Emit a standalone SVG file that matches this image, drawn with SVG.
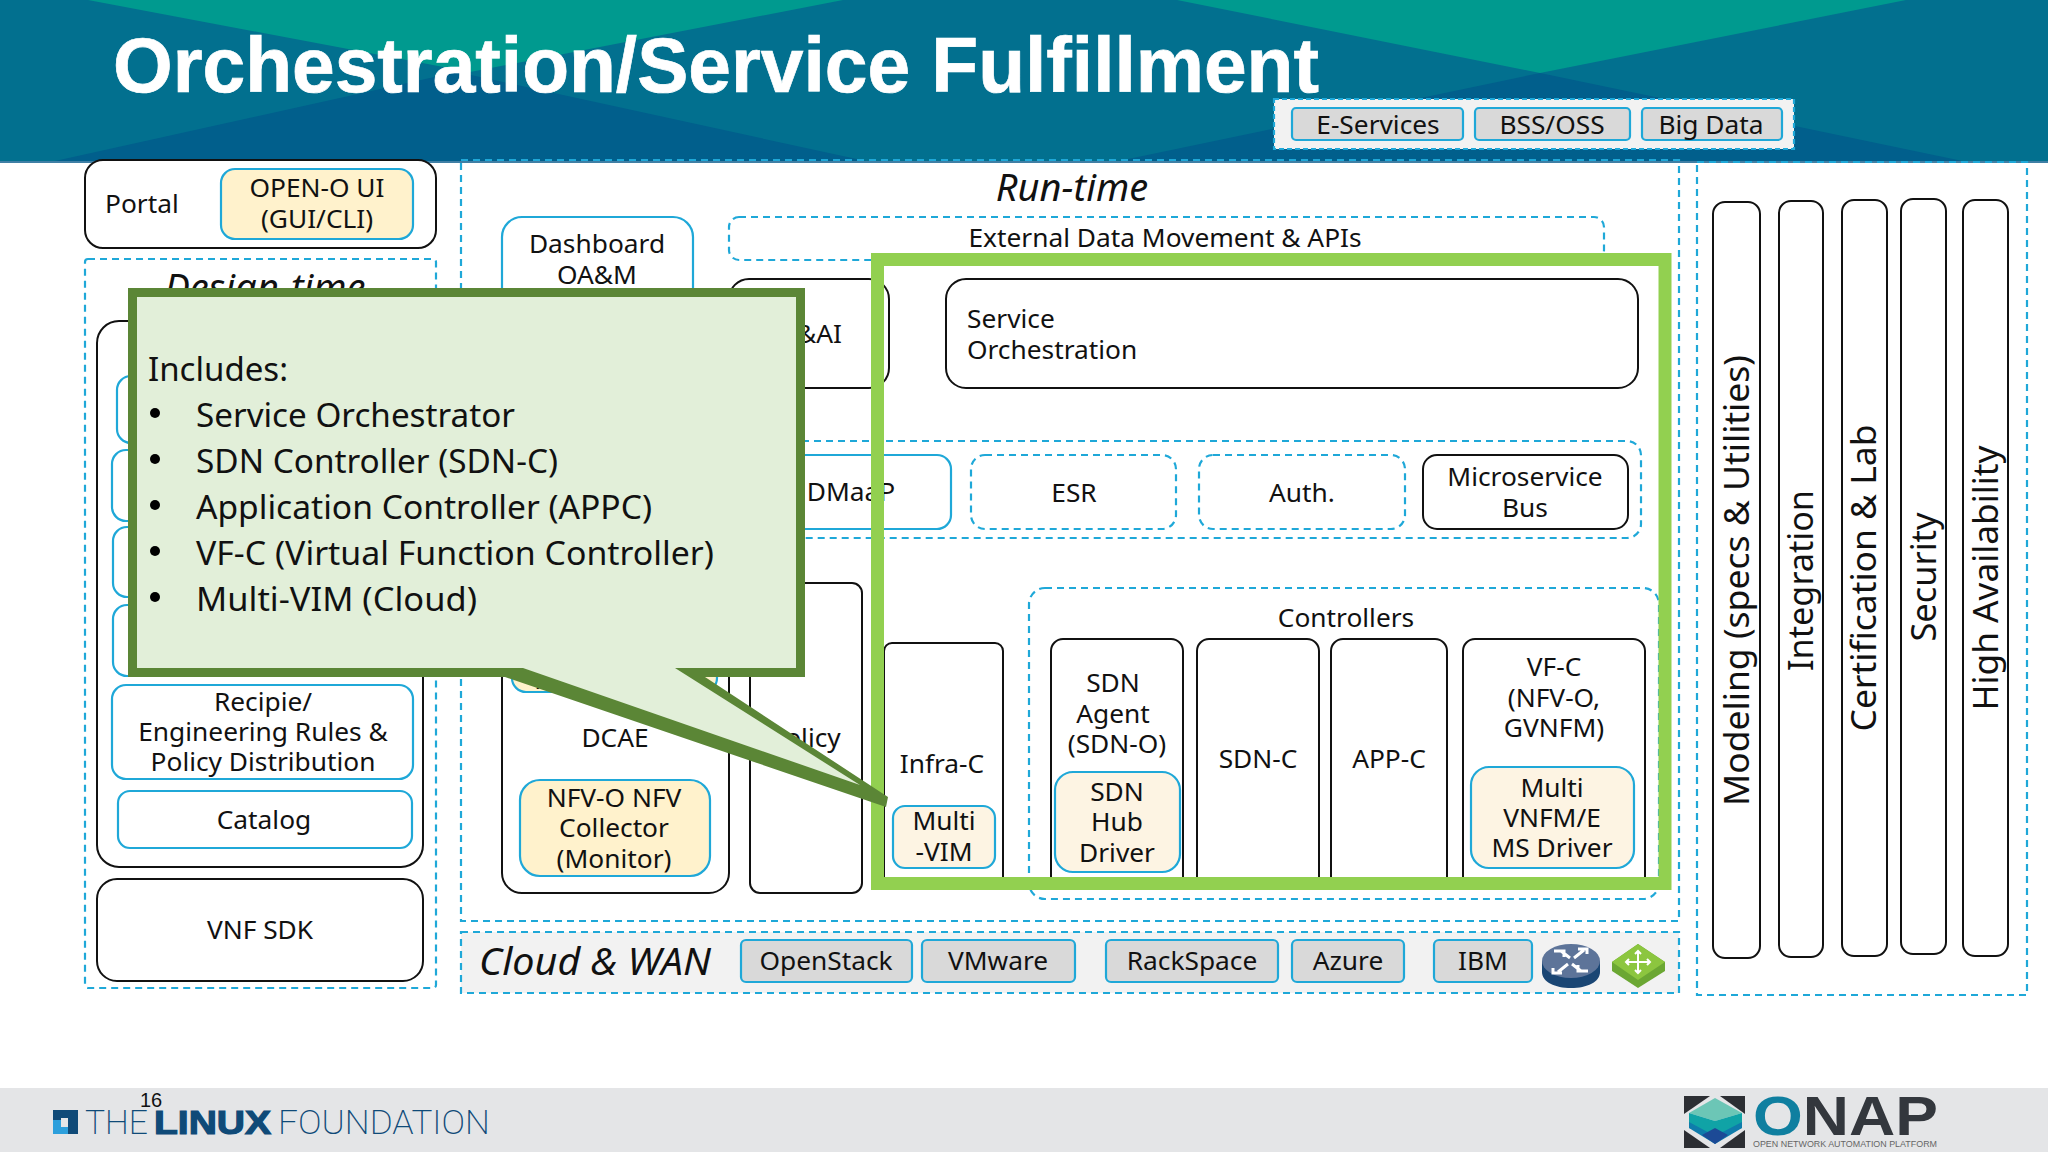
<svg xmlns="http://www.w3.org/2000/svg" width="2048" height="1152" viewBox="0 0 2048 1152">
<style>
text{font-family:"Noto Sans","Open Sans","Liberation Sans",sans-serif;fill:#111}
.t{font-size:26.3px;text-anchor:middle}
.i{font-style:italic}
.b{fill:#fff;stroke:#111;stroke-width:2}
.s{fill:#fff;stroke:#1fa8d8;stroke-width:2.2}
.y{fill:#fff2cc;stroke:#1fa8d8;stroke-width:2.2}
.yl{fill:#fdf4e3;stroke:#1fa8d8;stroke-width:2.2}
.d{fill:none;stroke:#1fa8d8;stroke-width:2.2;stroke-dasharray:7 5}
.c{fill:#d9d9d9;stroke:#1fa8d8;stroke-width:2.2}
.v{font-size:35px;text-anchor:middle}
.cl{font-size:33.6px}
.wa{stroke:#fff;stroke-width:3;fill:none}
</style>
<rect width="2048" height="1152" fill="#fff"/>
<g id="banner">
<rect width="2048" height="163" fill="#02708f"/>
<polygon points="88,0 843,0 470,72" fill="#009a8f"/>
<polygon points="1177,0 1906,0 1540,73" fill="#009a8f"/>
<polygon points="46,163 875,163 457,72" fill="#015f8c"/>
<polygon points="1109,163 1972,163 1540,73" fill="#015f8c"/>
<rect y="161" width="2048" height="2" fill="#3f7fa5"/>
<text x="113" y="92" style="font-family:'Liberation Sans',sans-serif;font-weight:700;font-size:77px;fill:#fff;stroke:#fff;stroke-width:.7" textLength="1206" lengthAdjust="spacingAndGlyphs">Orchestration/Service Fulfillment</text>
</g>
<g id="top-apps">
<rect x="1274" y="99" width="520" height="50" fill="#f2f2f2" stroke="#1fa8d8" stroke-width="2.2" stroke-dasharray="5 3"/>
<g id="e-services"><rect class="c" x="1292" y="108" width="171" height="32" rx="4"/><text class="t" x="1378" y="134">E-Services</text></g>
<g id="bss-oss"><rect class="c" x="1475" y="108" width="155" height="32" rx="4"/><text class="t" x="1552" y="134">BSS/OSS</text></g>
<g id="big-data"><rect class="c" x="1642" y="108" width="140" height="32" rx="4"/><text class="t" x="1711" y="134">Big Data</text></g>
</g>
<g id="portal">
<rect class="b" x="85" y="160" width="351" height="88" rx="18"/>
<text class="t" x="105" y="213" style="text-anchor:start">Portal</text>
<rect class="y" x="221" y="169" width="192" height="70" rx="14"/>
<text class="t" x="317" y="197">OPEN-O UI</text><text class="t" x="317" y="228">(GUI/CLI)</text>
</g>
<g id="design-time">
<rect class="d" x="85" y="259" width="351" height="729" rx="3"/>
<text class="i" x="265" y="301" style="font-size:38px;text-anchor:middle">Design-time</text>
<rect class="b" x="97" y="321" width="326" height="546" rx="22"/>
<rect class="s" x="117" y="376" width="296" height="67" rx="14"/>
<rect class="s" x="112" y="450" width="301" height="71" rx="14"/>
<rect class="s" x="113" y="527" width="300" height="70" rx="14"/>
<rect class="s" x="113" y="605" width="300" height="71" rx="14"/>
<g id="recipe"><rect class="s" x="112" y="685" width="301" height="94" rx="14"/>
<text class="t" x="263" y="711">Recipie/</text><text class="t" x="263" y="741">Engineering Rules &amp;</text><text class="t" x="263" y="771">Policy Distribution</text></g>
<g id="catalog"><rect class="s" x="118" y="791" width="294" height="57" rx="12"/><text class="t" x="264" y="829">Catalog</text></g>
<g id="vnf-sdk"><rect class="b" x="97" y="879" width="326" height="102" rx="20"/><text class="t" x="260" y="939">VNF SDK</text></g>
</g>
<g id="run-time">
<rect class="d" x="461" y="160" width="1218" height="761"/>
<text class="i" x="1072" y="201" style="font-size:38px;text-anchor:middle">Run-time</text>
<g id="external"><rect class="d" x="729" y="217" width="875" height="43" rx="10"/><text class="t" x="1165" y="247">External Data Movement &amp; APIs</text></g>
<g id="dashboard"><rect class="s" x="502" y="217" width="191" height="100" rx="20"/><text class="t" x="597" y="253">Dashboard</text><text class="t" x="597" y="284">OA&amp;M</text></g>
<g id="aai"><rect class="b" x="729" y="279" width="160" height="109" rx="20"/><text class="t" x="811" y="343">A&amp;AI</text></g>
<g id="so"><rect class="b" x="946" y="279" width="692" height="109" rx="20"/><text class="t" x="967" y="328" style="text-anchor:start">Service</text><text class="t" x="967" y="359" style="text-anchor:start">Orchestration</text></g>
<rect class="d" x="740" y="441" width="901" height="97" rx="14"/>
<g id="dmaap"><rect class="s" x="770" y="455" width="181" height="74" rx="14"/><text class="t" x="851" y="501">DMaaP</text></g>
<g id="esr"><rect class="d" x="971" y="455" width="205" height="74" rx="14"/><text class="t" x="1074" y="502">ESR</text></g>
<g id="auth"><rect class="d" x="1199" y="455" width="206" height="74" rx="14"/><text class="t" x="1302" y="502">Auth.</text></g>
<g id="msb"><rect class="b" x="1423" y="455" width="205" height="74" rx="14"/><text class="t" x="1525" y="486">Microservice</text><text class="t" x="1525" y="517">Bus</text></g>
<g id="dcae"><rect class="b" x="502" y="560" width="227" height="333" rx="20"/>
<rect class="y" x="512" y="600" width="205" height="92" rx="14"/>
<text class="t" x="545" y="689">A</text>
<text class="t" x="615" y="747">DCAE</text>
<rect class="y" x="520" y="780" width="190" height="96" rx="20"/>
<text class="t" x="614" y="807">NFV-O NFV</text><text class="t" x="614" y="837">Collector</text><text class="t" x="614" y="868">(Monitor)</text></g>
<g id="policy"><rect class="b" x="750" y="583" width="112" height="310" rx="10"/><text class="t" x="805" y="747">Policy</text></g>
<g id="infra-c"><path class="b" d="M884 885V651a8 8 0 0 1 8-8H995a8 8 0 0 1 8 8V885"/><text class="t" x="942" y="773">Infra-C</text>
<rect class="yl" x="893" y="806" width="102" height="62" rx="12"/><text class="t" x="944" y="830">Multi</text><text class="t" x="944" y="861">-VIM</text></g>
<g id="controllers"><rect class="d" x="1029" y="588" width="630" height="311" rx="16"/><text class="t" x="1346" y="627">Controllers</text></g>
<g id="sdn-agent"><path class="b" d="M1051 885V651a12 12 0 0 1 12-12H1171a12 12 0 0 1 12 12V885"/><text class="t" x="1113" y="692">SDN</text><text class="t" x="1113" y="723">Agent</text><text class="t" x="1117" y="753">(SDN-O)</text>
<rect class="yl" x="1055" y="772" width="125" height="100" rx="18"/><text class="t" x="1117" y="801">SDN</text><text class="t" x="1117" y="831">Hub</text><text class="t" x="1117" y="862">Driver</text></g>
<g id="sdn-c"><path class="b" d="M1197 885V651a12 12 0 0 1 12-12H1307a12 12 0 0 1 12 12V885"/><text class="t" x="1258" y="768">SDN-C</text></g>
<g id="app-c"><path class="b" d="M1331 885V651a12 12 0 0 1 12-12H1435a12 12 0 0 1 12 12V885"/><text class="t" x="1389" y="768">APP-C</text></g>
<g id="vf-c"><path class="b" d="M1463 885V651a12 12 0 0 1 12-12H1633a12 12 0 0 1 12 12V885"/><text class="t" x="1554" y="676">VF-C</text><text class="t" x="1554" y="707">(NFV-O,</text><text class="t" x="1554" y="737">GVNFM)</text>
<rect class="yl" x="1471" y="767" width="163" height="101" rx="18"/><text class="t" x="1552" y="797">Multi</text><text class="t" x="1552" y="827">VNFM/E</text><text class="t" x="1552" y="857">MS Driver</text></g>
</g>
<g id="highlight"><rect x="877.5" y="259.5" width="787.5" height="624" fill="none" stroke="#92d050" stroke-width="13"/></g>
<g id="cloud-wan">
<rect x="461" y="932" width="1218" height="61" fill="#f2f2f2" stroke="#1fa8d8" stroke-width="2.2" stroke-dasharray="7 5"/>
<text class="i" x="479" y="975" style="font-size:38px" textLength="232" lengthAdjust="spacingAndGlyphs">Cloud &amp; WAN</text>
<g id="openstack"><rect class="c" x="741" y="940" width="171" height="42" rx="5"/><text class="t" x="826" y="970">OpenStack</text></g>
<g id="vmware"><rect class="c" x="922" y="940" width="153" height="42" rx="5"/><text class="t" x="998" y="970">VMware</text></g>
<g id="rackspace"><rect class="c" x="1106" y="940" width="172" height="42" rx="5"/><text class="t" x="1192" y="970">RackSpace</text></g>
<g id="azure"><rect class="c" x="1292" y="940" width="112" height="42" rx="5"/><text class="t" x="1348" y="970">Azure</text></g>
<g id="ibm"><rect class="c" x="1434" y="940" width="98" height="42" rx="5"/><text class="t" x="1483" y="970">IBM</text></g>
<g id="router-icon">
<path d="M1542 961V972C1542 982 1555 988 1571 988S1600 982 1600 972V961Z" fill="#1a4674"/>
<ellipse cx="1571" cy="961" rx="29" ry="17" fill="#5d7499"/>
<path class="wa" d="M1561 951L1570 958M1554 951H1564V957M1581 971L1572 964M1588 971H1578V965M1584 950L1574 958M1578 949H1587V954M1558 972L1568 964M1553 968V973H1562"/>
</g>
<g id="switch-icon">
<polygon points="1638,944 1665,962 1665,971 1638,988 1612,971 1612,962" fill="#6ba733"/>
<polygon points="1638,944 1665,962 1638,980 1612,962" fill="#8cc63f"/>
<path class="wa" style="stroke-width:2" d="M1638 951V973M1626 962H1650M1635 954L1638 951L1641 954M1635 970L1638 973L1641 970M1629 959L1626 962L1629 965M1647 959L1650 962L1647 965"/>
</g>
</g>
<g id="cross-cutting">
<rect class="d" x="1697" y="162" width="330" height="833"/>
<g id="modeling"><rect class="b" x="1713" y="202" width="47" height="756" rx="12"/><text class="v" transform="translate(1749 580.5) rotate(-90)" textLength="451" lengthAdjust="spacingAndGlyphs">Modeling (specs &amp; Utilities)</text></g>
<g id="integration"><rect class="b" x="1779" y="201" width="44" height="756" rx="12"/><text class="v" transform="translate(1813 580.5) rotate(-90)" textLength="181" lengthAdjust="spacingAndGlyphs">Integration</text></g>
<g id="certification"><rect class="b" x="1842" y="200" width="45" height="756" rx="12"/><text class="v" transform="translate(1876 578) rotate(-90)" textLength="307" lengthAdjust="spacingAndGlyphs">Certification &amp; Lab</text></g>
<g id="security"><rect class="b" x="1901" y="199" width="45" height="755" rx="12"/><text class="v" transform="translate(1936 577) rotate(-90)" textLength="129" lengthAdjust="spacingAndGlyphs">Security</text></g>
<g id="availability"><rect class="b" x="1963" y="200" width="45" height="756" rx="12"/><text class="v" transform="translate(1998 578) rotate(-90)" textLength="265" lengthAdjust="spacingAndGlyphs">High Availability</text></g>
</g>
<g id="callout">
<polygon points="128,288 805,288 805,677 705,677 888,797 886,807 505,677 128,677" fill="#5b8636"/>
<polygon points="137,297 796,297 796,668 675,668 860,785 523,668 137,668" fill="#e2efd9"/>
<text class="cl" x="148" y="381" textLength="140" lengthAdjust="spacingAndGlyphs">Includes:</text>
<circle cx="155" cy="413" r="5" fill="#000"/><text class="cl" x="196" y="427" textLength="319" lengthAdjust="spacingAndGlyphs">Service Orchestrator</text>
<circle cx="155" cy="459" r="5" fill="#000"/><text class="cl" x="196" y="473" textLength="362" lengthAdjust="spacingAndGlyphs">SDN Controller (SDN-C)</text>
<circle cx="155" cy="505" r="5" fill="#000"/><text class="cl" x="196" y="519" textLength="456" lengthAdjust="spacingAndGlyphs">Application Controller (APPC)</text>
<circle cx="155" cy="551" r="5" fill="#000"/><text class="cl" x="196" y="565" textLength="518" lengthAdjust="spacingAndGlyphs">VF-C (Virtual Function Controller)</text>
<circle cx="155" cy="597" r="5" fill="#000"/><text class="cl" x="196" y="611" textLength="281" lengthAdjust="spacingAndGlyphs">Multi-VIM (Cloud)</text>
</g>
<g id="footer">
<rect y="1088" width="2048" height="64" fill="#e4e5e7"/>
<text x="140" y="1107" style="font-family:'Liberation Sans',sans-serif;font-size:20px">16</text>
<g id="lf-logo">
<path d="M53 1110H78V1134H68V1118H61V1134H53Z" fill="#0f4a78"/>
<path d="M53 1120H61V1127H68V1134H53Z" fill="#2c9fdc"/>
<text x="85" y="1134" style="font-family:Roboto,sans-serif;font-weight:200;font-size:33px;fill:#0f4a78" textLength="63" lengthAdjust="spacingAndGlyphs">THE</text>
<text x="154" y="1134" style="font-family:'Liberation Sans',sans-serif;font-weight:700;font-size:33px;fill:#0f4a78;stroke:#0f4a78;stroke-width:1.2" textLength="117" lengthAdjust="spacingAndGlyphs">LINUX</text>
<text x="278" y="1134" style="font-family:Roboto,sans-serif;font-weight:200;font-size:33px;fill:#0f4a78" textLength="212" lengthAdjust="spacingAndGlyphs">FOUNDATION</text>
</g>
<g id="onap-logo">
<polygon points="1684,1096 1710,1096 1684,1114" fill="#2c2e33"/><polygon points="1720,1096 1745,1096 1745,1114" fill="#2c2e33"/>
<polygon points="1684,1130 1684,1148 1710,1148" fill="#2c2e33"/><polygon points="1745,1130 1745,1148 1720,1148" fill="#2c2e33"/>
<polygon points="1715,1098 1742,1113 1715,1121 1689,1113" fill="#6cc6b6"/>
<polygon points="1689,1113 1715,1121 1742,1113 1742,1128 1715,1136 1689,1128" fill="#10a3a6"/>
<polygon points="1689,1122 1715,1136 1742,1122 1742,1128 1715,1144 1689,1128" fill="#0f7cab"/>
<polygon points="1702,1135 1715,1128 1728,1135 1715,1144" fill="#1c4a96"/>
<text x="1753" y="1135" style="font-family:'Liberation Sans',sans-serif;font-weight:700;font-size:55px;fill:#33373d" textLength="185" lengthAdjust="spacingAndGlyphs"><tspan style="fill:#0f7fa0">O</tspan>NAP</text>
<text x="1753" y="1147" style="font-family:'Liberation Sans',sans-serif;font-size:9.5px;fill:#666" textLength="184" lengthAdjust="spacingAndGlyphs">OPEN NETWORK AUTOMATION PLATFORM</text>
</g>
</g>
</svg>
